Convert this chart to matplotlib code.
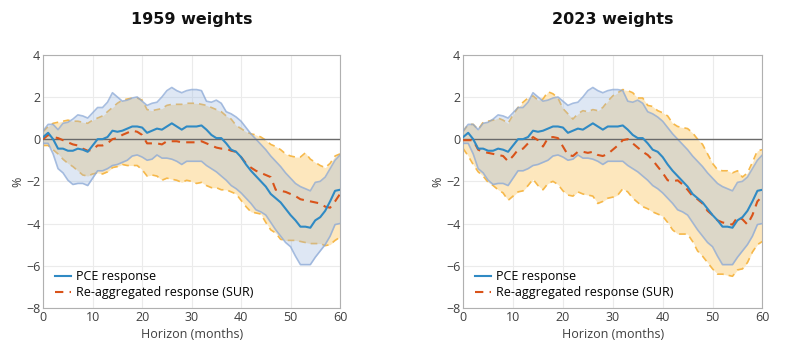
import matplotlib
matplotlib.use("Agg")
import matplotlib.pyplot as plt
import numpy as np

horizon = list(range(61))

pce = [0.1, 0.3, 0.0, -0.45, -0.45, -0.55, -0.55, -0.45, -0.5, -0.6,
       -0.3, 0.0, 0.0, 0.1, 0.4, 0.35, 0.4, 0.5, 0.6, 0.6,
       0.55, 0.3, 0.4, 0.5, 0.45, 0.6, 0.75, 0.6, 0.45, 0.6,
       0.6, 0.6, 0.65, 0.45, 0.2, 0.05, 0.05, -0.2, -0.5, -0.6,
       -0.85, -1.2, -1.5, -1.75, -2.0, -2.25, -2.6, -2.8, -3.0, -3.3,
       -3.6, -3.85, -4.15, -4.15, -4.2, -3.85, -3.7, -3.4, -2.95, -2.45, -2.4]
pce_upper = [0.4, 0.7, 0.7, 0.45, 0.75, 0.8, 0.95, 1.15, 1.1, 1.0,
             1.25, 1.5, 1.5, 1.75, 2.2, 2.0, 1.8, 1.85, 1.95, 2.0,
             1.8, 1.6, 1.7, 1.75, 2.0, 2.3, 2.45, 2.3, 2.2, 2.3,
             2.35, 2.35, 2.3, 1.8, 1.75, 1.85, 1.7, 1.3, 1.2, 1.05,
             0.85, 0.55, 0.25, 0.0, -0.25, -0.5, -0.8, -1.05, -1.3, -1.6,
             -1.85, -2.1, -2.25, -2.35, -2.45, -2.05, -2.0, -1.8, -1.4, -1.0, -0.75]
pce_lower = [-0.2, -0.2, -0.7, -1.4, -1.6, -1.95, -2.15, -2.1, -2.1, -2.2,
             -1.85, -1.5, -1.5, -1.4, -1.25, -1.2, -1.1, -1.0, -0.8, -0.75,
             -0.85, -1.0, -0.95, -0.75, -0.9, -0.9, -0.95, -1.05, -1.2, -1.05,
             -1.05, -1.05, -1.05, -1.25, -1.4, -1.55, -1.75, -1.95, -2.2, -2.35,
             -2.55, -2.8, -3.05, -3.35, -3.45, -3.6, -3.95, -4.3, -4.6, -4.9,
             -5.1, -5.55, -5.95, -5.95, -5.95, -5.6, -5.3, -5.0, -4.6, -4.05, -4.0]

sur_1959 = [0.0, 0.2, 0.1, 0.05, -0.05, -0.15, -0.25, -0.3, -0.45, -0.55,
            -0.5, -0.3, -0.3, -0.2, 0.0, 0.05, 0.2, 0.3, 0.4, 0.35,
            0.2, -0.2, -0.2, -0.2, -0.25, -0.1, -0.1, -0.1, -0.15, -0.15,
            -0.15, -0.15, -0.1, -0.2, -0.3, -0.4, -0.45, -0.45, -0.55, -0.6,
            -0.85, -1.15, -1.35, -1.5, -1.6, -1.7, -1.8, -2.4, -2.45, -2.5,
            -2.6, -2.7, -2.85, -2.9, -2.95, -3.0, -3.05, -3.2, -3.25, -2.95, -2.6]
sur_1959_upper = [0.35, 0.6, 0.75, 0.8, 0.85, 0.9, 0.85, 0.85, 0.8, 0.75,
                  0.9, 1.0, 1.1, 1.3, 1.5, 1.7, 1.85, 1.9, 1.95, 1.95,
                  1.85, 1.4, 1.35, 1.4, 1.45, 1.6, 1.65, 1.65, 1.65, 1.7,
                  1.7, 1.7, 1.65, 1.6, 1.5, 1.4, 1.3, 1.1, 0.95, 0.65,
                  0.5, 0.35, 0.25, 0.2, 0.1, -0.05, -0.25, -0.35, -0.5, -0.7,
                  -0.8, -0.85, -0.85, -0.65, -0.95, -1.1, -1.25, -1.35, -1.15, -0.8, -0.7]
sur_1959_lower = [-0.3, -0.3, -0.5, -0.7, -0.95, -1.15, -1.3, -1.5, -1.7, -1.75,
                  -1.65, -1.6, -1.65, -1.55, -1.35, -1.3, -1.2, -1.25, -1.25, -1.25,
                  -1.45, -1.75, -1.7, -1.75, -1.95, -1.85, -1.9, -1.95, -2.05, -1.95,
                  -2.0, -2.1, -2.05, -2.2, -2.3, -2.3, -2.4, -2.4, -2.5, -2.6,
                  -2.9, -3.2, -3.45, -3.5, -3.55, -3.95, -4.3, -4.45, -4.75, -4.8,
                  -4.8, -4.8, -4.85, -4.9, -4.95, -4.95, -4.95, -5.05, -5.0, -4.8, -4.65]

sur_2023 = [-0.05, -0.05, -0.05, -0.5, -0.6, -0.65, -0.7, -0.75, -0.8, -1.05,
            -0.8, -0.5, -0.45, -0.2, 0.1, -0.05, -0.35, 0.05, 0.1, 0.05,
            -0.35, -0.75, -0.8, -0.6, -0.6, -0.65, -0.6, -0.75, -0.8, -0.7,
            -0.5, -0.3, -0.05, 0.0, -0.2, -0.4, -0.6, -0.75, -1.0, -1.3,
            -1.6, -1.95, -2.0, -1.95, -2.15, -2.4, -2.7, -2.85, -3.05, -3.4,
            -3.6, -3.85, -3.95, -4.0, -4.05, -3.7, -3.8, -4.05, -3.6, -2.95, -2.7]
sur_2023_upper = [0.35, 0.7, 0.7, 0.45, 0.8, 0.85, 0.9, 1.0, 0.9, 0.75,
                  1.15, 1.5, 1.75, 1.95, 2.05, 1.85, 1.9, 2.25, 2.15, 1.95,
                  1.45, 1.2, 0.95, 1.2, 1.35, 1.3, 1.4, 1.35, 1.5, 1.8,
                  2.05, 2.2, 2.35, 2.3, 2.2, 1.95, 1.95, 1.6, 1.55, 1.35,
                  1.25, 1.1, 0.75, 0.6, 0.55, 0.5, 0.3, 0.0, -0.25, -0.7,
                  -1.15, -1.45, -1.5, -1.5, -1.6, -1.5, -1.8, -1.6, -1.1, -0.55, -0.5]
sur_2023_lower = [-0.45, -0.8, -1.2, -1.55, -1.75, -2.05, -2.2, -2.4, -2.55, -2.9,
                  -2.7, -2.5, -2.45, -2.2, -1.9, -2.2, -2.4, -2.1, -2.0, -2.15,
                  -2.45, -2.65, -2.7, -2.5, -2.6, -2.65, -2.7, -3.05, -2.95, -2.8,
                  -2.75, -2.65, -2.35, -2.5, -2.8, -3.0, -3.2, -3.3, -3.45, -3.55,
                  -3.65, -3.95, -4.3, -4.5, -4.5, -4.5, -4.85, -5.3, -5.55, -5.85,
                  -6.15, -6.4, -6.4, -6.45, -6.5, -6.2, -6.15, -5.85, -5.35, -5.0, -4.85]

titles = ["1959 weights", "2023 weights"]
x_ticks = [0, 10, 20, 30, 40, 50, 60]
y_ticks = [-8, -6, -4, -2, 0, 2, 4]

BLUE = "#2F8AC4"
ORANGE = "#D95319"
BLUE_BAND = "#9BB8E0"
ORANGE_FILL = "#FDE7BD"
ORANGE_EDGE = "#F6B84A"

fig = plt.figure(figsize=(8, 3.58), dpi=100)
positions = [[0.054, 0.140, 0.371, 0.707], [0.579, 0.140, 0.374, 0.707]]
sur_sets = [(sur_1959, sur_1959_upper, sur_1959_lower),
            (sur_2023, sur_2023_upper, sur_2023_lower)]

for pos, title, (sur, su, sl) in zip(positions, titles, sur_sets):
    ax = fig.add_axes(pos)
    ax.fill_between(horizon, sl, su, color=ORANGE_FILL, lw=0, zorder=1)
    ax.plot(horizon, su, color=ORANGE_EDGE, lw=1.2, ls=(0, (4, 3)), zorder=2)
    ax.plot(horizon, sl, color=ORANGE_EDGE, lw=1.2, ls=(0, (4, 3)), zorder=2)
    ax.fill_between(horizon, pce_lower, pce_upper, color=BLUE_BAND, alpha=0.33, lw=0, zorder=3)
    ax.plot(horizon, pce_upper, color="#8AA8D6", alpha=0.75, lw=1.2, zorder=4)
    ax.plot(horizon, pce_lower, color="#8AA8D6", alpha=0.75, lw=1.2, zorder=4)
    ax.axhline(0, color="#6a6a6a", lw=1.0, zorder=5)
    l1, = ax.plot(horizon, pce, color=BLUE, lw=1.5, zorder=7, label="PCE response")
    l2, = ax.plot(horizon, sur, color=ORANGE, lw=1.5, ls=(0, (4, 3)), zorder=6,
                  label="Re-aggregated response (SUR)")
    ax.set_xlim(0, 60)
    ax.set_ylim(-8, 4)
    ax.set_xticks(x_ticks)
    ax.set_yticks(y_ticks)
    ax.grid(True, color="#ebebeb", lw=0.8, zorder=0)
    ax.set_axisbelow(True)
    for s in ax.spines.values():
        s.set_color("#b0b0b0")
        s.set_linewidth(0.8)
    ax.tick_params(length=0, labelsize=9, colors="#404040", pad=2)
    for lab in ax.get_xticklabels() + ax.get_yticklabels():
        lab.set_fontfamily("Open Sans")
    ax.set_xlabel("Horizon (months)", fontsize=9, color="#404040",
                  fontfamily="Open Sans", labelpad=3)
    ax.set_ylabel("%", fontsize=9, color="#404040", fontfamily="Open Sans", labelpad=1)
    ax.set_title(title, fontsize=11.5, fontweight="bold", fontfamily="DejaVu Sans",
                 pad=22, color="#111111")
    ax.legend(handles=[l1, l2], loc="lower left", frameon=False,
              prop={"family": "Open Sans", "size": 9}, handlelength=1.3,
              handletextpad=0.4, borderaxespad=0.3, labelspacing=0.25,
              bbox_to_anchor=(0.01, 0.0))

fig.savefig("out.png", dpi=100)
